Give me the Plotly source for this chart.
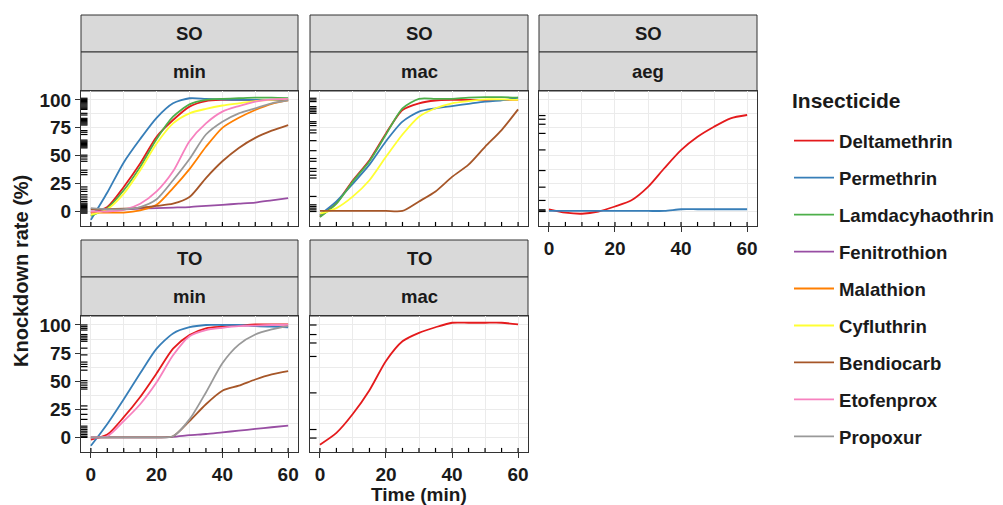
import plotly.graph_objects as go

# ---------------- data ----------------
TIME = [0, 5, 10, 15, 20, 25, 30, 35, 40, 45, 50, 55, 60]
RUG_TIME = [0, 5, 10, 15, 20, 25, 30, 35, 40, 45, 50, 55, 60]

INSECTICIDES = ["Deltamethrin", "Permethrin", "Lamdacyhaothrin", "Fenitrothion",
                "Malathion", "Cyfluthrin", "Bendiocarb", "Etofenprox", "Propoxur"]
COLORS = ["#E41A1C", "#377EB8", "#4DAF4A", "#984EA3", "#FF7F00",
          "#FFFF33", "#A65628", "#F781BF", "#999999"]

X_TICKS = [0, 20, 40, 60]
Y_TICKS = [0, 25, 50, 75, 100]

# SO / min
SO_MIN_DELTAMETHRIN = [-1, 4, 22, 43, 67, 82, 94, 99, 100, 100, 100, 100, 100]
SO_MIN_PERMETHRIN = [-7.5, 17, 44, 65, 84, 97, 101.5, 101, 100.5, 100, 100, 100, 100]
SO_MIN_LAMDACYHAOTHRIN = [-4, 3, 19, 40, 65, 85, 96, 100, 101, 101.5, 102, 102, 101.5]
SO_MIN_FENITROTHION = [2, 2, 2, 2.5, 3, 3.5, 4, 5, 6, 7, 8, 10, 12]
SO_MIN_MALATHION = [-1, -1, -1, 1, 6, 21, 38, 58, 75, 84, 91, 96.5, 99.5]
SO_MIN_CYFLUTHRIN = [-3, 2, 16, 37, 61, 79, 88, 92, 95, 97, 99, 100, 101]
SO_MIN_BENDIOCARB = [2, 2, 2.5, 3.5, 5, 7, 13, 30, 45, 57, 66, 72.5, 77.5]
SO_MIN_ETOFENPROX = [0, 0, 1.5, 7, 18, 36, 63, 79, 89.5, 94.5, 98.5, 100.5, 101]
SO_MIN_PROPOXUR = [3, 2, 2, 4, 11, 28, 47, 69, 80.5, 88, 92.5, 97, 99.5]

# SO / mac
SO_MAC_DELTAMETHRIN = [-4.5, 7.5, 28, 46, 70, 91, 97, 99.5, 100, 100, 100, 100, 100]
SO_MAC_PERMETHRIN = [-3, 9, 25, 42, 63, 80.5, 89.5, 92.5, 94.5, 96.5, 98.5, 99.5, 102]
SO_MAC_LAMDACYHAOTHRIN = [-5, 7, 27, 45, 69, 92.5, 101, 101, 101, 102, 102.5, 102.5, 102]
SO_MAC_CYFLUTHRIN = [-2, 3, 13.5, 28, 49, 69, 85, 92.5, 97, 99, 100.5, 100.5, 100]
SO_MAC_BENDIOCARB = [0.5, 0.5, 0.5, 0.5, 0.5, 0.5, 9, 18, 31, 42, 58, 73, 91.5]

# SO / aeg
SO_AEG_DELTAMETHRIN = [2, -1, -2, 0, 4.5, 10, 22, 39, 55, 67, 76, 83.5, 86.5]
SO_AEG_PERMETHRIN = [0.5, 0.5, 0.5, 0.5, 0.5, 0.5, 0.5, 0.5, 2, 2, 2, 2, 2]

# TO / min
TO_MIN_DELTAMETHRIN = [-2, 2.5, 18, 36, 57, 79, 91, 97, 98.5, 99.5, 100.5, 100.5, 100.5]
TO_MIN_PERMETHRIN = [-7.5, 12, 34, 57, 79, 92.5, 98, 100, 100, 100, 99, 98.5, 98]
TO_MIN_FENITROTHION = [0, 0, 0, 0, 0, 0.5, 2, 3, 4.5, 6, 7.5, 9, 10.5]
TO_MIN_BENDIOCARB = [0, 0, 0, 0, 0, 1, 14.5, 29.5, 41.5, 46, 51.5, 56, 59]
TO_MIN_ETOFENPROX = [0, 1, 14.5, 29.5, 49, 73, 90, 95.5, 97.5, 99, 99.5, 100, 100]
TO_MIN_PROPOXUR = [0, 0, 0, 0, 0, 1, 16, 40, 66, 82.5, 91.5, 96, 99]

# TO / mac
TO_MAC_DELTAMETHRIN = [-6.5, 4, 21, 42, 68, 85.5, 93, 98, 102, 102, 102, 102, 100.5]

# observed values shown as rug on the y axis
RUG_SO_MIN = [101.5, 100.5, 99.5, 98.5, 97.5, 96.5, 95.5, 94.5, 93.5, 92.5, 91.5,
              88, 86.5, 83.5, 82.5, 81.5, 80.5, 79.5, 78.5, 77.5, 72.5, 71, 69,
              64, 63, 62, 61, 60, 59, 58, 57, 50.5, 49, 47, 45, 37, 35, 33,
              22, 20, 18, 15, 13, 11, 9, 7.5, 6.5, 5.5, 4.5, 3.5, 2.5, 1.5, 0.5, -0.5, -1.5]
RUG_SO_MAC = [101.5, 100, 98.5, 94, 92.5, 91, 89.5, 88, 80.5, 79, 77, 73, 70.5,
              63.5, 54.5, 47.5, 45, 38.5, 36, 32.5, 30, 13.5, 6, 4.5, 3, 1.5, 0]
RUG_SO_AEG = [86, 82.7, 78.2, 70, 55.2, 36.7, 21.8, 9.9, 1.5, 0.5, 0]
RUG_TO_MIN = [100, 98.5, 97, 95.5, 91.5, 90, 88.5, 87, 85.5, 79.4, 73.4, 67, 65, 63,
              59.8, 50.5, 48.5, 46.5, 44.5, 43, 28, 25, 20.5, 16, 10, 8.5, 7, 5.5,
              4, 2.5, 1, 0]
RUG_TO_MAC = [100, 91.5, 84, 72, 39.6, 7, -0.6]

# ---------------- layout helpers ----------------
OFF = 8                      # page margin around the figure
W, H = 1003 - OFF, 505 - OFF
FONT = "Liberation Sans, Arial, sans-serif"
INK = "#1A1A1A"
BORDER = "#333333"
GRID = "#EBEBEB"


def px_x(p):
    return (p - OFF) / W


def px_y(p):
    return 1 - (p - OFF) / H


COLS = [(81, 298), (310, 528), (539, 757)]
ROWS = [(91, 226), (316, 452)]
STRIPS = [((15, 52), (52, 91)), ((240, 277), (277, 316))]

PANELS = [
    dict(top="SO", sub="min", row=0, col=0, xlab=False, ylab=True,
         series=[("Deltamethrin", SO_MIN_DELTAMETHRIN), ("Permethrin", SO_MIN_PERMETHRIN),
                 ("Lamdacyhaothrin", SO_MIN_LAMDACYHAOTHRIN), ("Fenitrothion", SO_MIN_FENITROTHION),
                 ("Malathion", SO_MIN_MALATHION), ("Cyfluthrin", SO_MIN_CYFLUTHRIN),
                 ("Bendiocarb", SO_MIN_BENDIOCARB), ("Etofenprox", SO_MIN_ETOFENPROX),
                 ("Propoxur", SO_MIN_PROPOXUR)],
         rug=RUG_SO_MIN),
    dict(top="SO", sub="mac", row=0, col=1, xlab=False, ylab=False,
         series=[("Deltamethrin", SO_MAC_DELTAMETHRIN), ("Permethrin", SO_MAC_PERMETHRIN),
                 ("Lamdacyhaothrin", SO_MAC_LAMDACYHAOTHRIN), ("Cyfluthrin", SO_MAC_CYFLUTHRIN),
                 ("Bendiocarb", SO_MAC_BENDIOCARB)],
         rug=RUG_SO_MAC),
    dict(top="SO", sub="aeg", row=0, col=2, xlab=True, ylab=False,
         series=[("Deltamethrin", SO_AEG_DELTAMETHRIN), ("Permethrin", SO_AEG_PERMETHRIN)],
         rug=RUG_SO_AEG),
    dict(top="TO", sub="min", row=1, col=0, xlab=True, ylab=True,
         series=[("Deltamethrin", TO_MIN_DELTAMETHRIN), ("Permethrin", TO_MIN_PERMETHRIN),
                 ("Fenitrothion", TO_MIN_FENITROTHION), ("Bendiocarb", TO_MIN_BENDIOCARB),
                 ("Etofenprox", TO_MIN_ETOFENPROX), ("Propoxur", TO_MIN_PROPOXUR)],
         rug=RUG_TO_MIN),
    dict(top="TO", sub="mac", row=1, col=1, xlab=True, ylab=False,
         series=[("Deltamethrin", TO_MAC_DELTAMETHRIN)],
         rug=RUG_TO_MAC),
]

color_of = dict(zip(INSECTICIDES, COLORS))

fig = go.Figure()
shapes = []
annotations = []
seen = set()
layout_axes = {}

for i, p in enumerate(PANELS, start=1):
    xa = "x" if i == 1 else f"x{i}"
    ya = "y" if i == 1 else f"y{i}"
    xkey = "xaxis" if i == 1 else f"xaxis{i}"
    ykey = "yaxis" if i == 1 else f"yaxis{i}"
    c0, c1 = COLS[p["col"]]
    r0, r1 = ROWS[p["row"]]

    for name, vals in p["series"]:
        fig.add_trace(go.Scatter(
            x=TIME, y=vals, mode="lines", name=name, legendgroup=name,
            showlegend=name not in seen,
            line=dict(color=color_of[name], width=1.8, shape="spline", smoothing=0.7),
            xaxis=xa, yaxis=ya, hoverinfo="skip"))
        seen.add(name)

    layout_axes[xkey] = dict(
        domain=[px_x(c0), px_x(c1)], range=[-3, 63], anchor=ya,
        tickmode="array", tickvals=X_TICKS,
        showticklabels=p["xlab"], ticks="outside" if p["xlab"] else "",
        ticklen=5, tickwidth=1, tickcolor=BORDER,
        showline=True, mirror=True, linecolor=BORDER, linewidth=1,
        showgrid=True, gridcolor=GRID, gridwidth=1.1, zeroline=False,
        minor=dict(showgrid=True, tickvals=[10, 30, 50], gridcolor=GRID, gridwidth=0.6),
        tickfont=dict(size=19, color=INK, family=FONT, weight="bold"),
        fixedrange=True)
    layout_axes[ykey] = dict(
        domain=[px_y(r1), px_y(r0)], range=[-13, 108], anchor=xa,
        tickmode="array", tickvals=Y_TICKS,
        showticklabels=p["ylab"], ticks="outside" if p["ylab"] else "",
        ticklen=5, tickwidth=1, tickcolor=BORDER,
        showline=True, mirror=True, linecolor=BORDER, linewidth=1,
        showgrid=True, gridcolor=GRID, gridwidth=1.1, zeroline=False,
        minor=dict(showgrid=True, tickvals=[-12.5, 12.5, 37.5, 62.5, 87.5],
                   gridcolor=GRID, gridwidth=0.6),
        tickfont=dict(size=19, color=INK, family=FONT, weight="bold"),
        fixedrange=True)

    # rugs
    for v in p["rug"]:
        shapes.append(dict(type="line", xref=f"{xa} domain", yref=ya,
                           x0=0, x1=0.03, y0=v, y1=v,
                           line=dict(color="black", width=1.2)))
    for t in RUG_TIME:
        shapes.append(dict(type="line", xref=xa, yref=f"{ya} domain",
                           x0=t, x1=t, y0=0, y1=0.03,
                           line=dict(color="black", width=1.2)))

    # strips
    for (s0, s1), label in zip(STRIPS[p["row"]], [p["top"], p["sub"]]):
        shapes.append(dict(type="rect", xref="paper", yref="paper",
                           x0=px_x(c0), x1=px_x(c1), y0=px_y(s1), y1=px_y(s0),
                           fillcolor="#D9D9D9", line=dict(color=BORDER, width=1),
                           layer="below"))
        annotations.append(dict(text=label, xref="paper", yref="paper",
                                x=px_x((c0 + c1) / 2), y=px_y((s0 + s1) / 2),
                                xanchor="center", yanchor="middle", showarrow=False,
                                font=dict(size=18.5, color=INK, family=FONT, weight="bold")))

annotations.append(dict(text="Knockdown rate (%)", xref="paper", yref="paper",
                        x=px_x(21), y=px_y(271), textangle=-90, showarrow=False,
                        xanchor="center", yanchor="middle",
                        font=dict(size=20, color=INK, family=FONT, weight="bold")))
annotations.append(dict(text="Time (min)", xref="paper", yref="paper",
                        x=px_x(419), y=px_y(494), showarrow=False,
                        xanchor="center", yanchor="middle",
                        font=dict(size=19, color=INK, family=FONT, weight="bold")))
annotations.append(dict(text="Insecticide", xref="paper", yref="paper",
                        x=px_x(790), y=px_y(100), showarrow=False,
                        xanchor="left", yanchor="middle",
                        font=dict(size=21, color=INK, family=FONT, weight="bold")))

fig.update_layout(
    width=W, height=H, margin=dict(l=0, r=0, t=0, b=0),
    paper_bgcolor="white", plot_bgcolor="white",
    font=dict(family=FONT, color=INK, weight="bold"),
    shapes=shapes, annotations=annotations,
    showlegend=True,
    legend=dict(x=px_x(789), y=px_y(122), xanchor="left", yanchor="top",
                traceorder="grouped", tracegroupgap=9.8, itemwidth=40,
                bgcolor="rgba(0,0,0,0)",
                font=dict(size=18.6, color=INK, family=FONT, weight="bold")),
    **layout_axes)

fig.write_html("out.html")
